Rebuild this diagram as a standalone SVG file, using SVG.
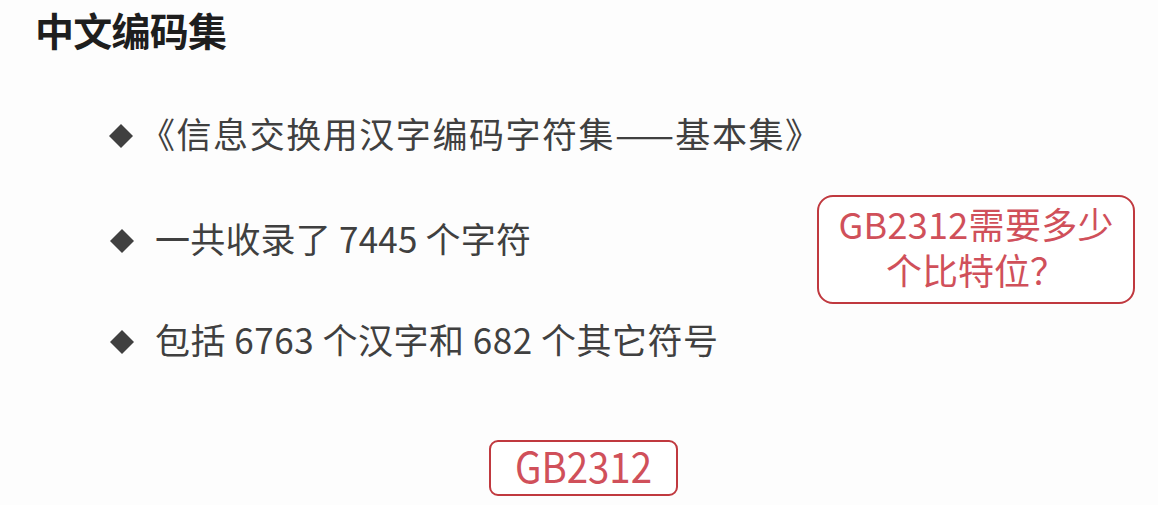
<svg xmlns="http://www.w3.org/2000/svg" width="1158" height="505" viewBox="0 0 1158 505">
<style>
.t{font-family:"Noto Sans CJK SC","Noto Sans",sans-serif;}
.title{font-size:39px;font-weight:bold;fill:#1e1e1e;}
.b{font-size:35px;fill:#404040;}
.dia{fill:#404040;}
.box{fill:#ffffff;stroke:#c0393f;stroke-width:2;}
.red{fill:#d0505a;}
</style>
<rect x="0" y="0" width="1158" height="505" fill="#fdfdfd"/>
<g id="title"><text class="t title" x="35" y="46" textLength="192" lengthAdjust="spacing">中文编码集</text></g>
<g id="bullet1">
<polygon class="dia" points="121,124 133,136 121,148 109,136"/>
<text class="t b" x="140" y="148" textLength="680" lengthAdjust="spacing">《信息交换用汉字编码字符集——基本集》</text>
</g>
<g id="bullet2">
<polygon class="dia" points="122,229 134,241 122,253 110,241"/>
<text class="t b" x="155" y="253" textLength="376" lengthAdjust="spacing">一共收录了 7445 个字符</text>
</g>
<g id="bullet3">
<polygon class="dia" points="122,330 134,342 122,354 110,342"/>
<text class="t b" x="155" y="354" textLength="563" lengthAdjust="spacing">包括 6763 个汉字和 682 个其它符号</text>
</g>
<g id="question">
<rect class="box" x="818" y="196" width="316" height="107" rx="15"/>
<text class="t red" x="976" y="239" font-size="36" text-anchor="middle" textLength="275" lengthAdjust="spacing">GB2312需要多少</text>
<text class="t red" x="976" y="285" font-size="36" text-anchor="middle">个比特位？</text>
</g>
<g id="gb2312">
<rect class="box" x="490" y="441" width="187" height="54" rx="8"/>
<text class="t red" x="515" y="483" font-size="42" textLength="137" lengthAdjust="spacingAndGlyphs">GB2312</text>
</g>
<g id="connectors"></g>
</svg>
